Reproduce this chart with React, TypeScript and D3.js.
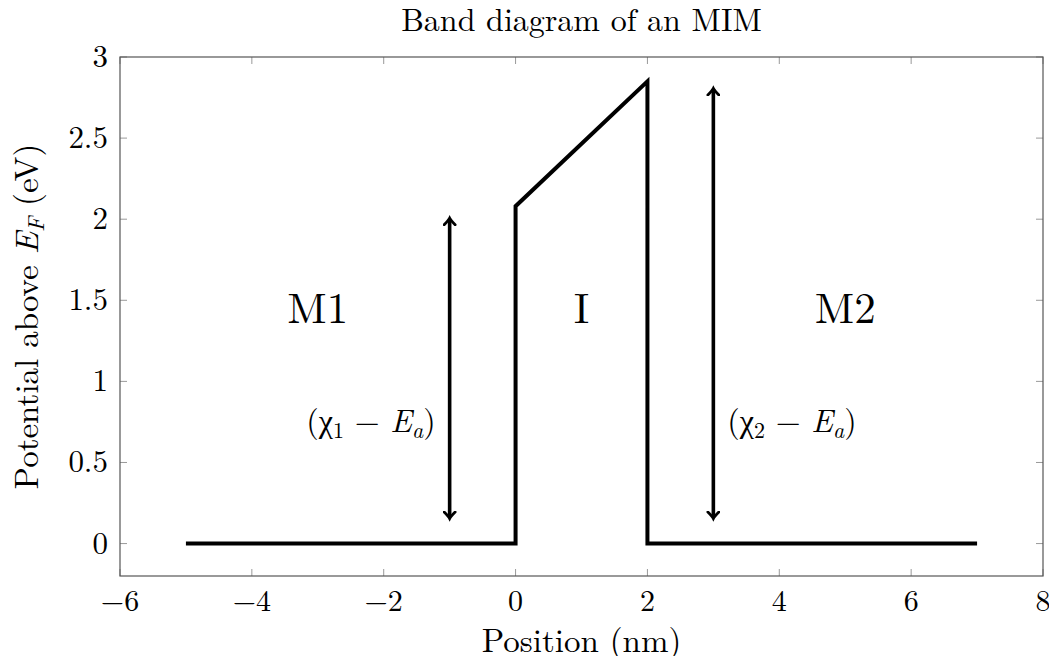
import React, { useEffect, useRef } from 'react';
import * as d3 from 'd3';

// band edge of the MIM structure
const bandX = [-5, 0, 0, 2, 2, 7];
const bandY = [0, 0, 2.08, 2.85, 0, 0];

// double-headed arrows: x, bottom, top
const arrowX = [-1, 3];
const arrowLow = [0.16, 0.16];
const arrowHigh = [2.0, 2.8];

const regionNames = ['M1', 'I', 'M2'];
const regionX = [-3, 1, 5];
const regionY = 1.45;

const xTicks = [-6, -4, -2, 0, 2, 4, 6, 8];
const yTicks = [0, 0.5, 1, 1.5, 2, 2.5, 3];

const W = 1057, H = 664;
const serif = "'Latin Modern Roman', 'CMU Serif', 'Liberation Serif', serif";

function fmtNum(d: number) {
  return d < 0 ? '\u2212' + Math.abs(d) : String(d);
}

export default function App() {
  const ref = useRef<SVGSVGElement>(null);

  useEffect(() => {
    const svg = d3.select(ref.current);
    svg.selectAll('*').remove();

    const left = 120, right = 1043, top = 57, bottom = 576;
    const x = d3.scaleLinear().domain([-6, 8]).range([left, right]);
    const y = d3.scaleLinear().domain([-0.2, 3]).range([bottom, top]);

    const defs = svg.append('defs');
    defs.append('marker')
      .attr('id', 'tip')
      .attr('viewBox', '-7 -7 14 14')
      .attr('refX', 0).attr('refY', 0)
      .attr('markerWidth', 14).attr('markerHeight', 14)
      .attr('markerUnits', 'userSpaceOnUse')
      .attr('orient', 'auto-start-reverse')
      .append('path')
      .attr('d', 'M-5.5,-5.5 Q-1,-1 1,0 Q-1,1 -5.5,5.5')
      .attr('fill', 'none').attr('stroke', '#000')
      .attr('stroke-width', 2.8).attr('stroke-linecap', 'round');

    // ticks (inward, all four sides)
    const tk = svg.append('g').attr('stroke', '#999').attr('stroke-width', 1);
    xTicks.forEach(t => {
      tk.append('line').attr('x1', x(t)).attr('x2', x(t)).attr('y1', bottom).attr('y2', bottom - 7);
      tk.append('line').attr('x1', x(t)).attr('x2', x(t)).attr('y1', top).attr('y2', top + 7);
    });
    yTicks.forEach(t => {
      tk.append('line').attr('x1', left).attr('x2', left + 7).attr('y1', y(t)).attr('y2', y(t));
      tk.append('line').attr('x1', right).attr('x2', right - 7).attr('y1', y(t)).attr('y2', y(t));
    });

    svg.append('rect')
      .attr('x', left).attr('y', top)
      .attr('width', right - left).attr('height', bottom - top)
      .attr('fill', 'none').attr('stroke', '#555').attr('stroke-width', 1.2);

    const txt = svg.append('g').attr('font-family', serif).attr('fill', '#000');

    txt.selectAll('.xt').data(xTicks).enter().append('text')
      .attr('x', d => x(d)).attr('y', bottom + 35)
      .attr('text-anchor', 'middle').attr('font-size', 30)
      .text(d => fmtNum(d));

    txt.selectAll('.yt').data(yTicks).enter().append('text')
      .attr('x', left - 12).attr('y', d => y(d) + 10)
      .attr('text-anchor', 'end').attr('font-size', 31)
      .text(d => fmtNum(d));

    txt.append('text')
      .attr('x', (left + right) / 2).attr('y', 31)
      .attr('text-anchor', 'middle').attr('font-size', 32)
      .text('Band diagram of an MIM');

    txt.append('text')
      .attr('x', (left + right) / 2).attr('y', 652)
      .attr('text-anchor', 'middle').attr('font-size', 33)
      .text('Position (nm)');

    const yl = txt.append('text')
      .attr('transform', `translate(38,${(top + bottom) / 2}) rotate(-90)`)
      .attr('text-anchor', 'middle').attr('font-size', 33);
    yl.append('tspan').text('Potential above ');
    yl.append('tspan').attr('font-style', 'italic').text('E');
    yl.append('tspan').attr('font-style', 'italic').attr('font-size', 23).attr('dy', 6).text('F');
    yl.append('tspan').attr('dy', -6).text(' (eV)');

    // band line
    const pts = bandX.map((v, i) => [v, bandY[i]] as [number, number]);
    svg.append('path')
      .attr('d', d3.line().x(d => x(d[0])).y(d => y(d[1]))(pts))
      .attr('fill', 'none').attr('stroke', '#000')
      .attr('stroke-width', 4).attr('stroke-linejoin', 'miter');

    // arrows
    arrowX.forEach((ax, i) => {
      svg.append('line')
        .attr('x1', x(ax)).attr('x2', x(ax))
        .attr('y1', y(arrowLow[i])).attr('y2', y(arrowHigh[i]))
        .attr('stroke', '#000').attr('stroke-width', 3.6)
        .attr('marker-start', 'url(#tip)').attr('marker-end', 'url(#tip)');
    });

    txt.selectAll('.reg').data(regionNames).enter().append('text')
      .attr('x', (d, i) => x(regionX[i])).attr('y', y(regionY) + 15)
      .attr('text-anchor', 'middle').attr('font-size', 43)
      .text(d => d);

    const annot = (ax: number, sub: string, anchor: string, dx: number) => {
      const t = txt.append('text')
        .attr('x', x(ax) + dx).attr('y', y(0.75) + 10)
        .attr('text-anchor', anchor).attr('font-size', 32);
      t.append('tspan').text('(\u03c7');
      t.append('tspan').attr('font-size', 22).attr('dy', 6).text(sub);
      t.append('tspan').attr('dy', -6).text(' \u2212 ');
      t.append('tspan').attr('font-style', 'italic').text('E');
      t.append('tspan').attr('font-style', 'italic').attr('font-size', 22).attr('dy', 6).text('a');
      t.append('tspan').attr('dy', -6).text(')');
    };
    annot(arrowX[0], '1', 'end', -14);
    annot(arrowX[1], '2', 'start', 14);
  }, []);

  return <svg ref={ref} width={W} height={H} style={{ display: 'block', margin: '-8px' }} />;
}
